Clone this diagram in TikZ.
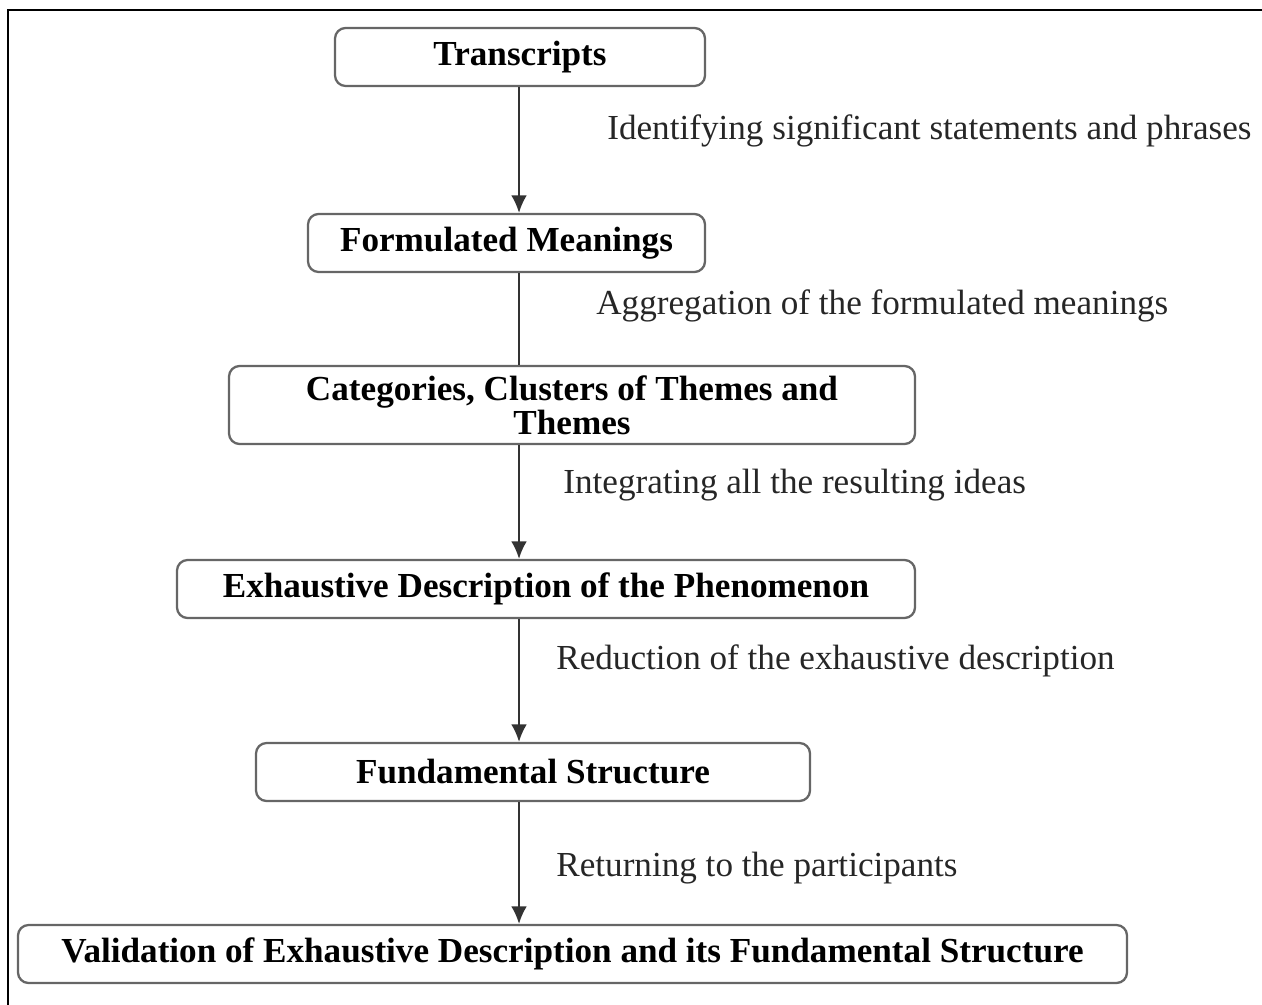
\documentclass[tikz,border=0pt]{standalone}
\usepackage{fontspec}
\setmainfont{Liberation Serif}
\usetikzlibrary{arrows.meta}

\begin{document}
\begin{tikzpicture}[
    stage/.style={
        rectangle,
        rounded corners=6pt,
        draw=black!60,
        line width=1.3pt,
        fill=white,
        align=center,
        minimum height=1.16cm,
        inner sep=2pt,
        font=\fontsize{20}{15}\selectfont\bfseries
    },
    line/.style={
        draw=black!80, line width=1.1pt, -{Latex[length=10pt,width=9pt]}
    },
    plain/.style={
        draw=black!80, line width=1.1pt
    },
    step label/.style={
        anchor=west,
        inner sep=0pt,
        text=black!85,
        font=\fontsize{20}{24}\selectfont
    }
]
\useasboundingbox (0,0) rectangle (25.24,-20.1);

% Frame
\draw [line width=1.6pt] (25.24,-0.2) -- (0.16,-0.2) -- (0.16,-20.1);

% Nodes
\coordinate (spine) at (10.38,0);
\node [stage, minimum width=7.4cm] (trans) at (10.4,-1.14) {Transcripts};
\node [stage, minimum width=7.94cm] (formu) at (10.13,-4.86) {Formulated Meanings};
\node [stage, minimum width=13.72cm, minimum height=1.56cm] (categ) at (11.44,-8.1) {Categories, Clusters of Themes and\\Themes};
\node [stage, minimum width=14.76cm] (exhau) at (10.92,-11.78) {Exhaustive Description of the Phenomenon};
\node [stage, minimum width=11.08cm] (funda) at (10.66,-15.44) {Fundamental Structure};
\node [stage, minimum width=22.18cm] (valid) at (11.45,-19.08) {Validation of Exhaustive Description and its Fundamental Structure};

% Labels
\node [step label] (l1) at (12.14,-2.62) {Identifying significant statements and phrases};
\node [step label] (l2) at (11.92,-6.12) {Aggregation of the formulated meanings};
\node [step label] (l3) at (11.26,-9.70) {Integrating all the resulting ideas};
\node [step label] (l4) at (11.12,-13.22) {Reduction of the exhaustive description};
\node [step label] (l5) at (11.12,-17.36) {Returning to the participants};

% Arrows
\draw [line] (trans.south -| spine) -- (formu.north -| spine);
\draw [plain] (formu.south -| spine) -- (categ.north -| spine);
\draw [line] (categ.south -| spine) -- (exhau.north -| spine);
\draw [line] (exhau.south -| spine) -- (funda.north -| spine);
\draw [line] (funda.south -| spine) -- (valid.north -| spine);

\end{tikzpicture}
\end{document}
